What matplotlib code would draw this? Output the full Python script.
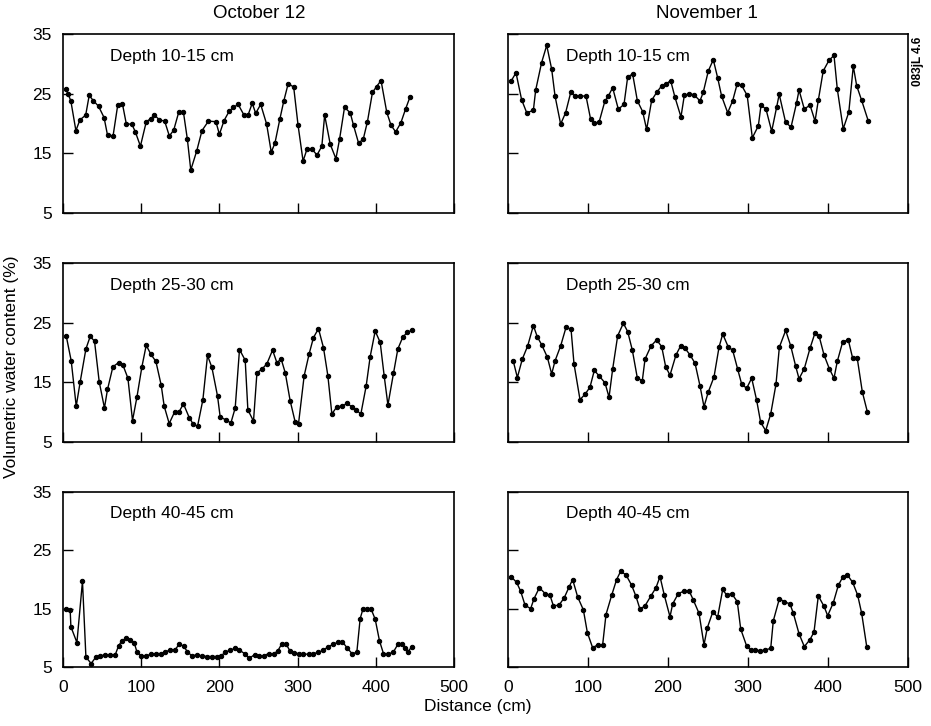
import matplotlib
matplotlib.use("Agg")
import matplotlib.pyplot as plt

plt.rcParams['font.family'] = ['Liberation Sans', 'DejaVu Sans']

# ---------------- data (distance cm, volumetric water content %) ----------------
oct_10_x = [3.8, 6.7, 10, 16.5, 21.6, 29, 33.5, 39, 45.4, 52.5, 57, 64, 70, 76, 81, 88, 92.5, 99,
            106.5, 112, 117, 123.4, 130, 136, 141.6, 148, 154, 159, 163.4, 171, 177.7, 186, 195.5,
            200, 206, 212.7, 218, 224, 231.5, 236.6, 242, 246.4, 252.8, 260.4, 266.3, 271, 277.4,
            282.4, 288, 295, 300.6, 307, 312, 318.5, 324.8, 331, 334.6, 341.8, 349, 353.7, 360,
            367.3, 371.5, 378, 384, 389.3, 395.7, 401, 406.7, 414, 419.5, 425.4, 432, 438, 443.6]
oct_10_y = [25.7, 24.9, 23.8, 18.8, 20.6, 21.4, 24.7, 23.8, 22.9, 21.0, 18.0, 17.9, 23.1, 23.3,
            19.9, 19.9, 18.6, 16.2, 20.3, 20.8, 21.4, 20.6, 20.4, 17.9, 18.9, 21.9, 21.9, 17.4,
            12.2, 15.4, 18.8, 20.4, 20.3, 18.2, 20.5, 22.1, 22.7, 23.2, 21.4, 21.4, 23.4, 21.7,
            23.2, 19.9, 15.2, 16.7, 20.8, 23.8, 26.7, 26.1, 19.7, 13.7, 15.7, 15.7, 14.7, 16.2,
            21.4, 16.5, 14.1, 17.4, 22.7, 21.8, 19.7, 16.7, 17.4, 20.3, 25.2, 26.2, 27.2, 21.9,
            19.7, 18.6, 20.1, 22.4, 24.4]

nov_10_x = [3.8, 10, 17, 23.4, 31.7, 34.6, 42, 48.4, 54.6, 58.8, 65.8, 72, 78.4, 83.8, 90, 97.5,
            103.3, 108, 114, 121, 125.4, 130.8, 137.9, 145, 149.6, 155.8, 161.7, 168.3, 173.3,
            179.6, 185.8, 192, 197.5, 203.3, 208.7, 216.2, 220.4, 226.6, 232.5, 240, 244, 250.4,
            256.6, 262, 267, 274.6, 280.8, 286.6, 292, 299, 305.4, 312.9, 316.3, 322.5, 329.6,
            335.9, 339, 347, 353.8, 360.8, 363.8, 370.4, 377.5, 383.8, 387.9, 394, 401.3, 407.5,
            411.6, 419, 426, 431.6, 435.9, 442, 450.4]
nov_10_y = [27.1, 28.5, 24.0, 21.8, 22.2, 25.6, 30.2, 33.1, 29.1, 24.6, 19.9, 21.8, 25.2, 24.6,
            24.6, 24.6, 20.7, 20.0, 20.3, 23.7, 24.6, 26.0, 22.4, 23.2, 27.8, 28.3, 23.8, 22.0,
            19.0, 23.9, 25.2, 26.3, 26.6, 27.2, 24.4, 21.1, 24.7, 25.0, 24.8, 23.8, 25.2, 28.8,
            30.7, 27.7, 24.6, 21.8, 23.8, 26.7, 26.4, 24.7, 17.6, 19.6, 23.1, 22.4, 18.7, 22.8,
            24.9, 20.2, 19.4, 23.5, 25.6, 22.4, 23.1, 20.4, 23.9, 28.8, 30.6, 31.4, 25.8, 19.1,
            21.9, 29.6, 26.3, 23.9, 20.4]

oct_25_x = [4.1, 10.5, 16.9, 22, 29.3, 34.8, 40.3, 46.3, 53, 56.9, 63.8, 71, 76.6, 83, 88.9, 94.5,
            100.9, 106.4, 112.4, 118.8, 125.6, 129.4, 135.8, 142.6, 148.6, 154, 161.4, 166, 172,
            178.9, 184.8, 190.4, 197.6, 201, 208.3, 214.7, 220.2, 225.7, 233, 236.4, 243.6, 248,
            254.3, 260.7, 268, 273.5, 279, 284.2, 290.5, 297, 301.2, 308.4, 314.8, 320.3, 326.7,
            333.1, 338.7, 343.8, 350.2, 357.4, 363, 369.4, 374.5, 380.9, 387.7, 392.8, 399.2,
            405.6, 410.7, 415.5, 422.6, 428.2, 434.6, 440.5, 446.2]
oct_25_y = [22.8, 18.6, 11.0, 15.1, 20.6, 22.7, 21.9, 15.1, 10.7, 13.8, 17.6, 18.3, 17.9, 15.7,
            8.6, 12.5, 17.6, 21.2, 19.7, 18.5, 14.5, 11.0, 8.1, 10.0, 10.1, 11.4, 9.1, 8.1, 7.6,
            12.1, 19.5, 17.5, 12.7, 9.2, 8.7, 8.2, 10.7, 20.5, 18.7, 10.4, 8.5, 16.6, 17.2, 18.1,
            20.4, 18.3, 18.9, 16.6, 11.9, 8.3, 8.1, 16.1, 19.8, 22.5, 24.0, 20.8, 16.1, 9.7, 10.9,
            11.0, 11.5, 10.9, 10.4, 9.7, 14.4, 19.3, 23.6, 21.7, 16.1, 11.2, 16.5, 20.6, 22.6,
            23.4, 23.7]

nov_25_x = [6.7, 11.7, 17.9, 24.6, 31.7, 36.7, 42.1, 49.2, 54.6, 58.8, 65.8, 72.5, 78.8, 82.5, 90,
            96.3, 102.5, 107.9, 113.8, 121.3, 126.3, 130.8, 137.1, 144.2, 149.6, 155.4, 161.7,
            167.9, 171.3, 178.8, 185.8, 192.1, 197.1, 202.5, 210, 215.8, 221.3, 227.5, 233.8, 240,
            245, 250.4, 257.5, 263.8, 268.4, 275.4, 280.8, 287.1, 292.1, 298.3, 304.6, 310.8,
            315.8, 322.1, 328.4, 335, 339.2, 347.1, 353.4, 359.6, 363.8, 370.4, 377.5, 383.8,
            388.8, 395, 401.6, 407.5, 411.6, 418.4, 425.4, 430.9, 436.6, 442.9, 449.1]
nov_25_y = [18.5, 15.8, 18.9, 21.1, 24.5, 22.6, 21.3, 19.2, 16.4, 18.6, 21.1, 24.2, 23.9, 18.1,
            12.1, 13.0, 14.2, 17.0, 16.1, 14.9, 12.5, 17.2, 22.8, 24.9, 23.5, 20.4, 15.7, 15.3,
            18.9, 21.1, 22.1, 21.0, 17.6, 16.2, 19.6, 21.1, 20.7, 19.6, 18.2, 14.4, 10.9, 13.4,
            15.9, 20.9, 23.1, 20.9, 20.4, 17.2, 14.7, 14.0, 15.7, 12.0, 8.3, 6.9, 9.7, 14.7, 20.9,
            23.7, 21.1, 17.7, 15.6, 17.3, 20.7, 23.3, 22.8, 19.6, 17.3, 15.7, 18.5, 21.8, 22.1,
            19.0, 19.0, 13.4, 10.1]

oct_40_x = [4.1, 9.2, 10.1, 17.8, 24.9, 29.3, 36, 42, 47.6, 54, 60.4, 66.8, 71, 75.3, 80.8, 86, 91,
            94.5, 100, 106, 112.8, 119.2, 125.6, 130.7, 137.1, 143.5, 148.6, 154.1, 159.2, 164.8,
            171.2, 177.6, 184, 190.4, 196.8, 201.9, 207.4, 213.8, 220.2, 225.7, 232.1, 238.1,
            244.9, 250.9, 256.4, 262.8, 269.2, 274.8, 279.9, 285.4, 290.5, 296, 301.2, 307.5, 314,
            320.3, 326.7, 333.1, 339.5, 345.9, 352.3, 357.4, 363.8, 370.2, 375.8, 380, 383.5,
            388.6, 394.1, 399.2, 404.7, 409.8, 416.2, 422.6, 428.3, 433.4, 437.6, 441, 446.2]
oct_40_y = [15.0, 14.7, 11.9, 9.2, 19.7, 6.7, 5.6, 6.7, 6.9, 7.1, 7.1, 7.1, 8.6, 9.5, 9.9, 9.7, 9.2,
            7.6, 6.9, 6.9, 7.2, 7.3, 7.3, 7.6, 7.9, 8.0, 8.9, 8.6, 7.6, 6.9, 7.1, 6.9, 6.8, 6.8,
            6.8, 6.9, 7.5, 7.9, 8.2, 7.9, 7.3, 6.5, 7.1, 6.9, 6.9, 7.3, 7.2, 7.8, 9.0, 8.9, 7.7,
            7.4, 7.3, 7.2, 7.2, 7.3, 7.5, 7.9, 8.5, 8.9, 9.3, 9.3, 8.2, 7.2, 7.6, 13.3, 14.9, 14.9,
            14.9, 13.2, 9.5, 7.3, 7.2, 7.6, 8.9, 8.9, 8.2, 7.6, 8.5]

nov_40_x = [3.8, 10.8, 15.8, 21.3, 28.3, 32.5, 39.2, 46.3, 52.5, 56.7, 63.8, 70.4, 76.3, 80.8, 87.1,
            94.2, 99.2, 105.8, 112.1, 118.3, 122.5, 129.6, 135.8, 140.8, 147.5, 154.6, 160, 165,
            171.3, 178.3, 185, 190, 195.4, 202.5, 205.8, 212.9, 220, 226.6, 231.6, 238.8, 245,
            249.1, 255.9, 262.1, 268.4, 273.4, 279.6, 286.6, 290.9, 298.3, 303.4, 308.8, 315,
            321.3, 328.4, 331.6, 339.2, 345.4, 352.5, 356.7, 363.8, 370.4, 377.5, 382.5, 387.9,
            395, 399.6, 406.6, 412.9, 418.4, 424.1, 430.9, 437.1, 442.1, 448.4]
nov_40_y = [20.5, 19.5, 18.0, 15.6, 15.0, 16.7, 18.6, 17.6, 17.3, 15.5, 15.6, 16.9, 18.7, 20.0,
            17.0, 14.8, 10.9, 8.3, 8.8, 8.8, 14.0, 17.3, 20.0, 21.4, 20.8, 19.0, 17.1, 14.9, 15.5,
            17.1, 18.6, 20.5, 17.3, 13.6, 15.8, 17.6, 18.0, 18.0, 16.5, 14.2, 8.8, 11.7, 14.4,
            13.6, 18.3, 17.3, 17.6, 16.2, 11.5, 8.6, 7.9, 7.9, 7.8, 7.9, 8.2, 12.9, 16.7, 16.2,
            15.8, 14.2, 10.7, 8.5, 9.7, 11.0, 17.2, 15.4, 13.8, 16.0, 19.0, 20.4, 20.8, 19.5, 17.3,
            14.2, 8.5]

column_titles = ["October 12", "November 1"]
depth_labels = ["Depth 10-15 cm", "Depth 25-30 cm", "Depth 40-45 cm"]
y_ticks = [5, 15, 25, 35]
x_ticks = [0, 100, 200, 300, 400, 500]

series = [[(oct_10_x, oct_10_y), (nov_10_x, nov_10_y)],
          [(oct_25_x, oct_25_y), (nov_25_x, nov_25_y)],
          [(oct_40_x, oct_40_y), (nov_40_x, nov_40_y)]]

# ---------------- figure ----------------
W, H = 931, 726
fig = plt.figure(figsize=(W / 100, H / 100), dpi=100)

col_px = [(63, 454), (508, 908)]
row_px = [(34, 213), (263, 442), (492, 667)]
FS = 12.5

for r in range(3):
    for c in range(2):
        x0, x1 = col_px[c]
        t, b = row_px[r]
        ax = fig.add_axes([x0 / W, 1 - b / H, (x1 - x0) / W, (b - t) / H])
        xs, ys = series[r][c]
        ax.plot(xs, ys, '-', color='black', lw=1.0, marker='o', ms=3.1,
                mfc='black', mec='black', mew=0.8)
        ax.set_xlim(0, 500)
        ax.set_ylim(5, 35)
        ax.set_xticks(x_ticks)
        ax.set_yticks(y_ticks)
        ax.tick_params(direction='in', length=7, width=1.0, colors='black',
                       labelsize=FS)
        ax.tick_params(axis='y', pad=8)
        ax.tick_params(axis='x', pad=9)
        if c == 1:
            ax.tick_params(axis='y', labelleft=False)
        if r < 2:
            ax.tick_params(axis='x', labelbottom=False)
        for s in ax.spines.values():
            s.set_linewidth(1.2)
            s.set_color('black')
        ax.text(60 if c == 0 else 72, 31.3, depth_labels[r], fontsize=FS,
                ha='left', va='center')

fig.text(259 / W, 1 - 14 / H, column_titles[0], fontsize=13.5, ha='center', va='center')
fig.text(707 / W, 1 - 14 / H, column_titles[1], fontsize=13.5, ha='center', va='center')
fig.text(478 / W, 1 - 706 / H, "Distance (cm)", fontsize=FS, ha='center', va='center')
fig.text(12 / W, 1 - 367 / H, "Volumetric water content (%)", fontsize=FS,
         ha='center', va='center', rotation=90)
fig.text(918 / W, 1 - 61 / H, "083jL 4.6", fontsize=8.5, fontweight='bold',
         ha='center', va='center', rotation=90)

fig.savefig("out.png", dpi=100)
